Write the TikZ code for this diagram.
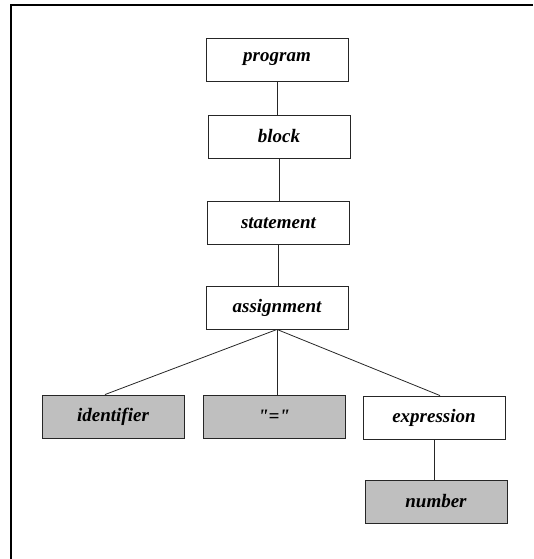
\documentclass[tikz,border=0pt]{standalone}
\usepackage{fontspec}
\setmainfont{Liberation Serif}
\begin{document}
\begin{tikzpicture}[x=1pt,y=-1pt,
  tbox/.style={draw=black!85, line width=0.9pt, minimum width=142pt, minimum height=43pt,
    inner sep=0pt, font=\fontsize{19}{21}\selectfont\bfseries\itshape},
  leaf/.style={tbox, fill=black!25},
  edge/.style={draw=black!85, line width=0.8pt}]
  \useasboundingbox (0,0) rectangle (533,559);
  % frame lines along the top and left
  \draw[line width=2pt] (10.5,559) -- (10.5,5.5) -- (533,5.5);

  \node[tbox] (program) at (277,59.5) {program};
  \node[tbox] (block) at (279,136.5) {block};
  \node[tbox] (statement) at (278.5,223) {statement};
  \node[tbox] (assign) at (277,307.5) {assignment};
  \node[leaf] (ident) at (113,416.5) {identifier};
  \node[leaf] (eq) at (274,416.5) {\textquotedbl=\textquotedbl};
  \node[tbox] (expr) at (434,417.5) {expression};
  \node[leaf] (number) at (436,501.5) {number};

  \draw[edge] (program.south) -- (program.south |- block.north);
  \draw[edge] (block.south) -- (block.south |- statement.north);
  \draw[edge] (statement.south) -- (statement.south |- assign.north);
  \draw[edge] (assign.south) -- ([xshift=-8pt]ident.north);
  \draw[edge] (assign.south) -- (assign.south |- eq.north);
  \draw[edge] (assign.south) -- ([xshift=6pt]expr.north);
  \draw[edge] (expr.south) -- (expr.south |- number.north);
\end{tikzpicture}
\end{document}
